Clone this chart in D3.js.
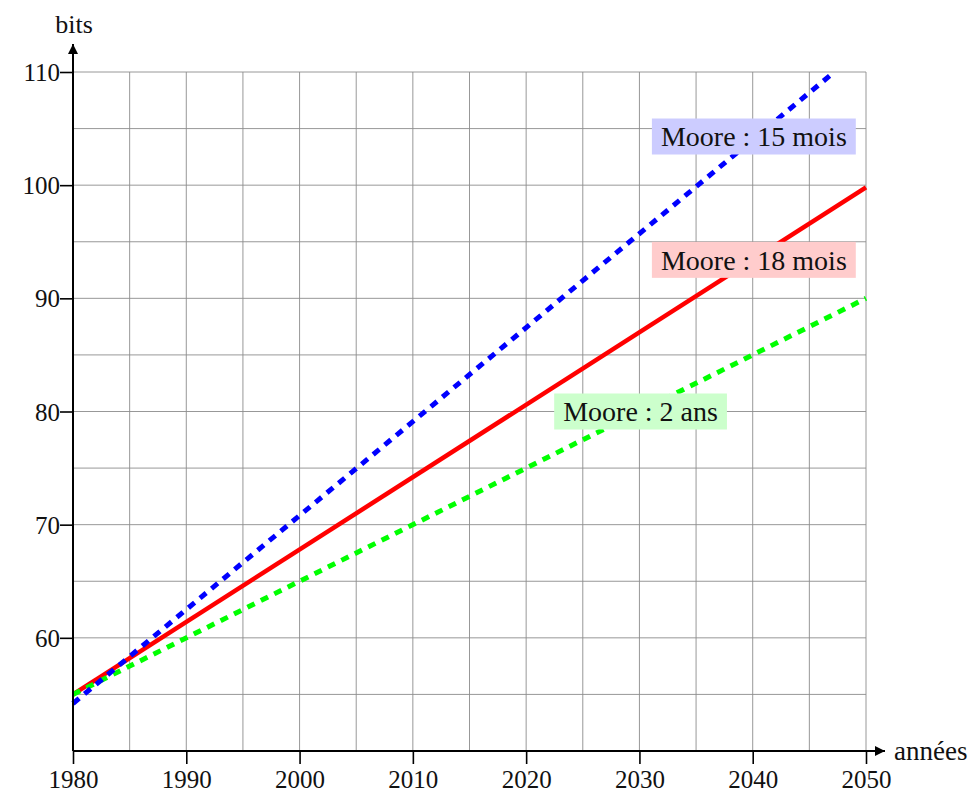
<!DOCTYPE html>
<html>
<head>
<meta charset="utf-8">
<script src="https://cdnjs.cloudflare.com/ajax/libs/d3/7.8.5/d3.min.js"></script>
<style>
    body { margin: 0; background: #fff; }
    text { font-family: "Liberation Serif", "DejaVu Serif", serif; fill: #111; }
</style>
</head>
<body>
<div id="chart"></div>
<script>
// values
var xTicks = [1980, 1990, 2000, 2010, 2020, 2030, 2040, 2050];
var yTicks = [60, 70, 80, 90, 100, 110];
var moore15 = [[1980, 54.2], [2047.2, 110]];
var moore18 = [[1980, 55.0], [2050, 99.8]];
var moore24 = [[1980, 55.0], [2050, 90.0]];
var labelNames = ["Moore : 15 mois", "Moore : 18 mois", "Moore : 2 ans"];
var labelPos = [[2040.1, 104.3], [2040.1, 93.4], [2030.1, 80.0]];

var svgWidth = 971;
var svgHeight = 794;

var svg = d3.select("#chart").append("svg")
    .attr("width", svgWidth)
    .attr("height", svgHeight);

var x = d3.scaleLinear().domain([1980, 2050]).range([73, 866]);
var y = d3.scaleLinear().domain([50, 110]).range([751, 72]);

// grid every 5 units
var gridX = d3.range(1985, 2051, 5);
var gridY = d3.range(55, 111, 5);

svg.append("g").selectAll("line").data(gridX).enter().append("line")
    .attr("x1", function(d) { return x(d); })
    .attr("x2", function(d) { return x(d); })
    .attr("y1", y(50))
    .attr("y2", y(110))
    .attr("stroke", "#8c8c8c")
    .attr("stroke-width", 0.9);

svg.append("g").selectAll("line").data(gridY).enter().append("line")
    .attr("x1", x(1980))
    .attr("x2", x(2050))
    .attr("y1", function(d) { return y(d); })
    .attr("y2", function(d) { return y(d); })
    .attr("stroke", "#8c8c8c")
    .attr("stroke-width", 0.9);

var line = d3.line()
    .x(function(d) { return x(d[0]); })
    .y(function(d) { return y(d[1]); });

svg.append("defs").append("clipPath").attr("id", "plot")
    .append("rect")
    .attr("x", x(1980) - 3).attr("y", y(110))
    .attr("width", x(2050) - x(1980) + 6).attr("height", y(50) - y(110));

var curves = svg.append("g").attr("clip-path", "url(#plot)");

curves.append("path")
    .datum(moore18)
    .attr("d", line)
    .attr("fill", "none")
    .attr("stroke", "#ff0000")
    .attr("stroke-width", 4.5);

curves.append("path")
    .datum(moore24)
    .attr("d", line)
    .attr("fill", "none")
    .attr("stroke", "#00ff00")
    .attr("stroke-width", 5)
    .attr("stroke-dasharray", "8,7");

curves.append("path")
    .datum(moore15)
    .attr("d", line)
    .attr("fill", "none")
    .attr("stroke", "#0000ff")
    .attr("stroke-width", 5)
    .attr("stroke-dasharray", "8,7");

// axes with arrow heads
svg.append("defs").append("marker")
    .attr("id", "arrow")
    .attr("viewBox", "0 0 10 10")
    .attr("refX", 10).attr("refY", 5)
    .attr("markerWidth", 11).attr("markerHeight", 10)
    .attr("markerUnits", "userSpaceOnUse")
    .attr("orient", "auto")
    .append("path")
    .attr("d", "M0,0 L10,5 L0,10 Z")
    .attr("fill", "#000");

var xAxis = svg.append("g")
    .attr("transform", "translate(0," + y(50) + ")")
    .call(d3.axisBottom(x).tickValues(xTicks).tickSize(13).tickPadding(4).tickFormat(d3.format("d")));
var yAxis = svg.append("g")
    .attr("transform", "translate(" + x(1980) + ",0)")
    .call(d3.axisLeft(y).tickValues(yTicks).tickSize(13).tickPadding(12).tickFormat(d3.format("d")));

[xAxis, yAxis].forEach(function(a) {
    a.select(".domain").remove();
    a.selectAll(".tick line").attr("stroke", "#000").attr("stroke-width", 1.6);
    a.selectAll(".tick text").attr("font-size", 25).attr("font-family", "Liberation Serif").attr("fill", "#111");
});
xAxis.selectAll(".tick text").attr("dy", "0.8em");
yAxis.selectAll(".tick text").attr("dy", "0.34em").attr("x", -13);

svg.append("line")
    .attr("x1", x(1980)).attr("x2", 885)
    .attr("y1", y(50)).attr("y2", y(50))
    .attr("stroke", "#000").attr("stroke-width", 2)
    .attr("marker-end", "url(#arrow)");
svg.append("line")
    .attr("x1", x(1980)).attr("x2", x(1980))
    .attr("y1", y(50)).attr("y2", 44)
    .attr("stroke", "#000").attr("stroke-width", 2)
    .attr("marker-end", "url(#arrow)");

svg.append("text")
    .attr("x", x(1980) + 1).attr("y", 33)
    .attr("text-anchor", "middle")
    .attr("font-size", 26)
    .text("bits");
svg.append("text")
    .attr("x", 894).attr("y", y(50) + 9)
    .attr("font-size", 27)
    .text("années");

// line labels on coloured boxes
var boxColors = ["#ccccff", "#ffcccc", "#ccffcc"];
var labels = svg.append("g").selectAll("g").data(labelNames).enter().append("g")
    .attr("transform", function(d, i) {
        return "translate(" + x(labelPos[i][0]) + "," + y(labelPos[i][1]) + ")";
    });

labels.append("rect")
    .attr("fill", function(d, i) { return boxColors[i]; });

labels.append("text")
    .attr("text-anchor", "middle")
    .attr("dy", "0.35em")
    .attr("font-size", 28)
    .text(function(d) { return d; });

labels.each(function() {
    var g = d3.select(this);
    var bb = g.select("text").node().getBBox();
    g.select("rect")
        .attr("x", bb.x - 9).attr("y", -18)
        .attr("width", bb.width + 18).attr("height", 36);
});
</script>
</body>
</html>
